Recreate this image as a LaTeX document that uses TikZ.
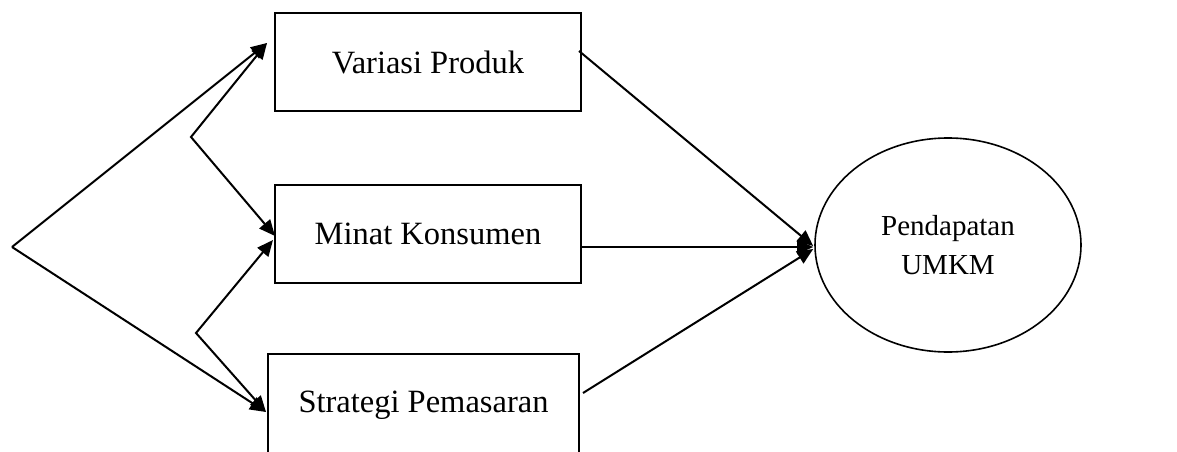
\documentclass[tikz,border=0pt]{standalone}
\usepackage{fontspec}
\setmainfont{Liberation Serif}
\usetikzlibrary{arrows.meta,calc,shapes.geometric}
\begin{document}
\begin{tikzpicture}[x=1pt,y=-1pt,
  boxnode/.style={draw,line width=2pt,minimum width=306pt,inner sep=0pt,font=\fontsize{32.5}{38}\selectfont},
  ellnode/.style={draw,ellipse,line width=1.6pt,minimum width=266pt,minimum height=214pt,inner sep=0pt,align=center,font=\fontsize{29}{39}\selectfont},
  conn/.style={line width=2pt},
  arr/.style={-{Triangle[length=16pt,width=14pt]}},
  darr/.style={{Triangle[length=16pt,width=14pt]}-{Triangle[length=16pt,width=14pt]}}
]
\useasboundingbox (0,0) rectangle (1177,452);
\clip (0,0) rectangle (1177,452);
\node[boxnode,minimum height=98pt] (v) at (428,62) {Variasi Produk};
\node[boxnode,minimum height=98pt] (m) at (428,234) {Minat Konsumen};
\node[boxnode,minimum width=311pt,minimum height=102pt] (s) at (423.5,405) {Strategi Pemasaran};
\node[ellnode] (e) at (948,245) {Pendapatan\\UMKM};
\coordinate (apex) at (12,247);
\coordinate (vtip) at ($(v.west)+(-7,-19)$);
\coordinate (mtip1) at ($(m.west)+(1,2)$);
\coordinate (mtip2) at ($(m.west)+(-1,6)$);
\coordinate (stip) at ($(s.west)+(-1,7)$);
\coordinate (k1) at (191,137);
\coordinate (k2) at (196,333);
\draw[conn,arr] (apex) -- (vtip);
\draw[conn,arr] (apex) -- (stip);
\draw[conn,darr] (vtip) -- (k1) -- (mtip1);
\draw[conn,darr] (mtip2) -- (k2) -- (stip);
\draw[conn,arr] ($(v.east)+(-3,-11)$) -- ($(e.west)+(-1,1)$);
\draw[conn,arr] ($(m.east)+(0,13)$) -- ($(e.west)+(-1,2)$);
\draw[conn,arr] ($(s.east)+(3,-12)$) -- ($(e.west)+(-1,4)$);
\end{tikzpicture}
\end{document}
